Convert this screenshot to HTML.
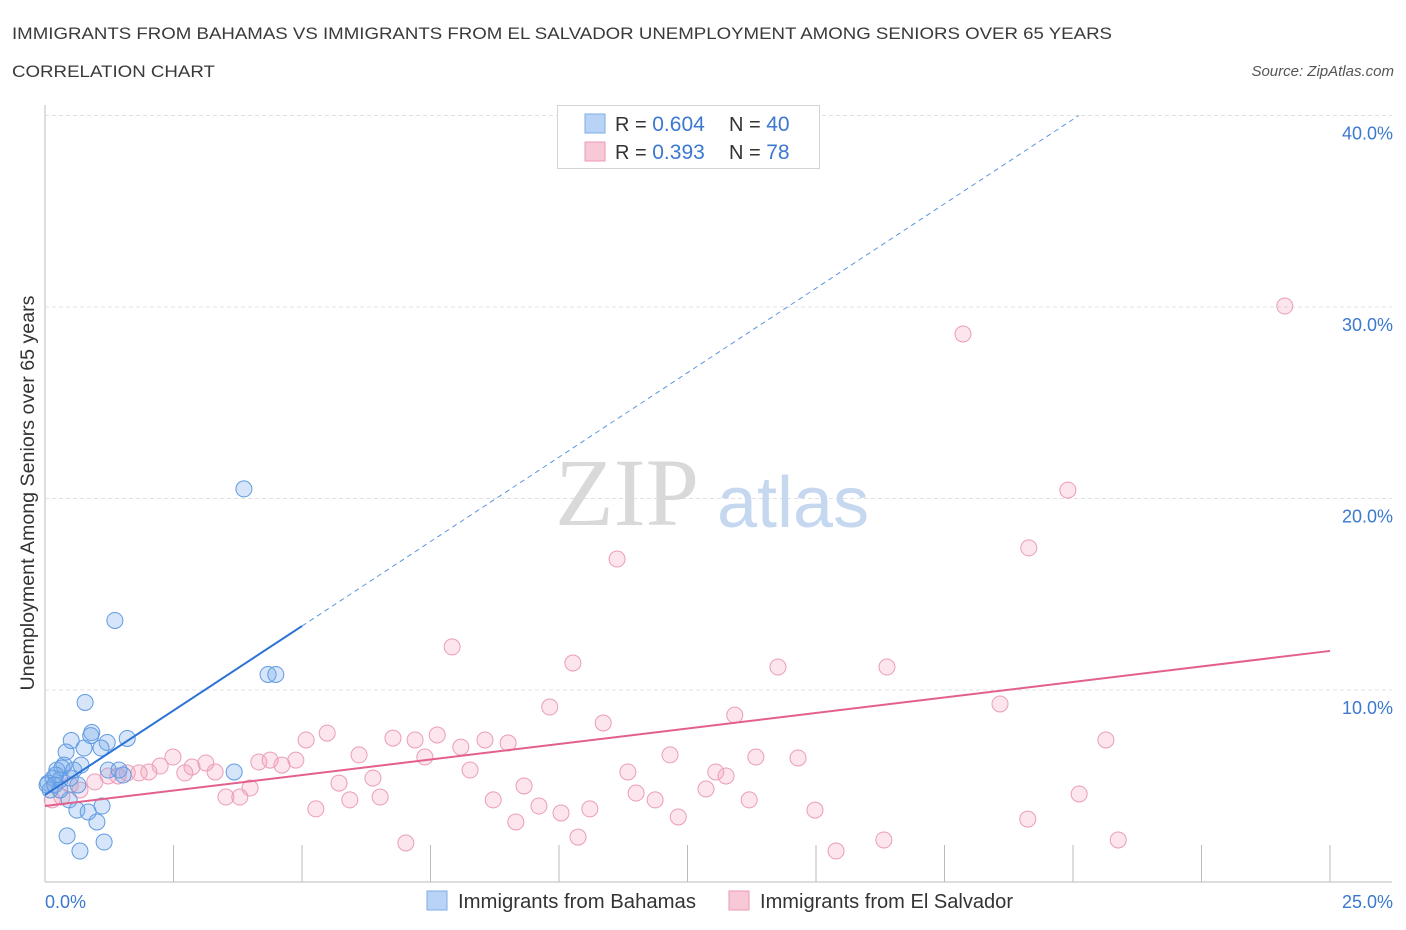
<!DOCTYPE html>
<html><head><meta charset="utf-8"><style>
body{margin:0;background:#fff;font-family:"Liberation Sans",sans-serif}
svg{display:block}
</style></head><body>
<svg id="chart" width="1406" height="930" xmlns="http://www.w3.org/2000/svg">
<text x="12" y="39" font-size="17" fill="#3a3a3a" textLength="1100" lengthAdjust="spacingAndGlyphs">IMMIGRANTS FROM BAHAMAS VS IMMIGRANTS FROM EL SALVADOR UNEMPLOYMENT AMONG SENIORS OVER 65 YEARS</text>
<text x="12" y="77" font-size="17" fill="#3a3a3a" textLength="203" lengthAdjust="spacingAndGlyphs">CORRELATION CHART</text>
<text x="1394" y="76" font-size="15" fill="#555" font-style="italic" text-anchor="end">Source: ZipAtlas.com</text>
<g id="grid"></g>
<text x="555" y="525" font-size="96" fill="#d9d9d9" font-family="Liberation Serif,serif">ZIP</text>
<text x="717" y="527" font-size="72" fill="#c5d8f0">atlas</text>
<g id="marks"></g>
<g>
<rect x="557.5" y="105.5" width="262" height="63" fill="#fff" stroke="#d4d4d4"/>
<rect x="585" y="114" width="20" height="19" fill="#b8d3f5" stroke="#7eaee8"/>
<rect x="585" y="142" width="20" height="19" fill="#f8c8d6" stroke="#ec9ab4"/>
<text x="615" y="131" font-size="20" fill="#333">R = <tspan fill="#3b78d0" font-size="21">0.604</tspan></text>
<text x="729" y="131" font-size="20" fill="#333">N = <tspan fill="#3b78d0" font-size="21">40</tspan></text>
<text x="615" y="159" font-size="20" fill="#333">R =  <tspan fill="#3b78d0" font-size="21">0.393</tspan></text>
<text x="729" y="159" font-size="20" fill="#333">N =  <tspan fill="#3b78d0" font-size="21">78</tspan></text>
</g>
<text transform="translate(34,493) rotate(-90)" font-size="19" fill="#333" text-anchor="middle" textLength="395" lengthAdjust="spacingAndGlyphs">Unemployment Among Seniors over 65 years</text>
<text x="45" y="908" font-size="18" fill="#3b78d0">0.0%</text>
<text x="1393" y="908" font-size="18" fill="#3b78d0" text-anchor="end">25.0%</text>
<rect x="427" y="891" width="20" height="19" fill="#b8d3f5" stroke="#7eaee8"/>
<text x="458" y="908" font-size="20" fill="#333" textLength="238" lengthAdjust="spacingAndGlyphs">Immigrants from Bahamas</text>
<rect x="729" y="891" width="20" height="19" fill="#f8c8d6" stroke="#ec9ab4"/>
<text x="760" y="908" font-size="20" fill="#333" textLength="253" lengthAdjust="spacingAndGlyphs">Immigrants from El Salvador</text>
</svg>
<script>
const yTicks=[10,20,30,40];
const yTickLabels=["10.0%","20.0%","30.0%","40.0%"];
const xTicks=[0,2.5,5,7.5,10,12.5,15,17.5,20,22.5,25];
const bahamasX=[3.87,1.36,4.34,4.49,0.78,0.91,0.89,1.60,0.51,1.21,0.76,1.09,0.41,0.70,0.37,1.23,1.44,3.68,1.52,0.23,0.33,0.16,0.29,0.06,0.10,0.21,0.49,0.64,0.47,0.62,0.84,1.11,1.01,0.43,0.68,1.15,0.56,0.04,0.19,0.29];
const bahamasY=[20.50,13.63,10.81,10.81,9.35,7.78,7.62,7.47,7.36,7.26,6.97,6.97,6.76,6.08,6.08,5.82,5.82,5.72,5.56,5.82,5.93,5.40,5.30,5.14,4.78,5.56,5.40,5.04,4.26,3.73,3.63,3.94,3.11,2.38,1.59,2.06,5.82,5.04,5.04,4.78];
const salvadorX=[24.12,17.86,19.90,19.14,11.13,7.92,10.27,14.26,16.38,18.58,9.82,10.86,13.42,20.64,5.49,7.63,6.77,7.20,8.56,9.01,5.08,8.09,6.11,7.39,12.16,13.83,14.65,2.49,4.88,4.16,4.38,3.13,4.61,2.24,2.86,2.02,1.83,1.60,2.72,3.31,1.23,1.42,11.34,8.27,13.05,13.25,6.38,5.72,9.32,3.99,12.86,11.50,11.87,3.52,3.79,6.52,5.93,8.72,13.70,20.12,9.61,5.27,10.04,10.60,14.98,12.32,9.16,19.12,10.37,7.02,16.32,20.88,15.39,0.97,0.49,0.14,0.68,0.33];
const salvadorY=[30.05,28.59,20.44,17.42,16.84,12.25,11.41,11.20,11.20,9.27,9.11,8.28,8.69,7.39,7.75,7.65,7.49,7.39,7.39,7.23,7.39,7.02,6.61,6.50,6.61,6.50,6.45,6.50,6.34,6.24,6.34,6.19,6.08,6.03,5.98,5.72,5.67,5.67,5.67,5.72,5.51,5.51,5.72,5.82,5.72,5.51,5.40,5.14,4.99,4.88,4.83,4.62,4.26,4.41,4.41,4.41,4.26,4.26,4.26,4.57,3.94,3.79,3.58,3.79,3.73,3.37,3.11,3.26,2.32,2.01,2.17,2.17,1.59,5.20,5.04,4.26,4.78,4.41];
const bahamasTrend=[4.52,1.764]; // intercept, slope
const salvadorTrend=[3.94,0.324];
const NS='http://www.w3.org/2000/svg';
const sx=v=>45+v*51.4, sy=v=>881.5-v*19.15;
function mk(tag,attrs,parent){const e=document.createElementNS(NS,tag);for(const k in attrs)e.setAttribute(k,attrs[k]);parent.appendChild(e);return e;}
const grid=document.getElementById('grid'), marks=document.getElementById('marks');
const yAxis=mk('line',{x1:45,y1:105,x2:45,y2:882,stroke:'#bbb'},grid);


const xAxis=mk('line',{x1:45,y1:882,x2:1392,y2:882,stroke:'#bbb'},grid);


yTicks.forEach((t,i)=>{
 const g=mk('line',{x1:45,y1:sy(t),x2:1392,y2:sy(t),stroke:'#e0e0e0','stroke-dasharray':'4,3'},grid);
 
 
 const l=mk('text',{x:1393,y:sy(t)+24,'font-size':18,fill:'#3b78d0','text-anchor':'end'},grid);
 l.textContent=yTickLabels[i];
 
 
});
xTicks.forEach(t=>{
 const k=mk('line',{x1:sx(t),y1:845,x2:sx(t),y2:882,stroke:'#bbb'},grid);
 
 
});
salvadorX.forEach((x,i)=>{
 const c=mk('circle',{cx:sx(x),cy:sy(salvadorY[i]),r:8,fill:'rgba(244,160,188,0.28)',stroke:'#eb9db7','stroke-width':1},marks);
 
 
});
bahamasX.forEach((x,i)=>{
 const c=mk('circle',{cx:sx(x),cy:sy(bahamasY[i]),r:8,fill:'rgba(120,170,235,0.3)',stroke:'#5f9be0','stroke-width':1},marks);
 
 
});
const pl=mk('line',{x1:sx(0),y1:sy(salvadorTrend[0]),x2:sx(25),y2:sy(salvadorTrend[0]+salvadorTrend[1]*25),stroke:'#e4608c','stroke-width':2},marks);


const bl=mk('line',{x1:sx(0),y1:sy(bahamasTrend[0]),x2:sx(5),y2:sy(bahamasTrend[0]+bahamasTrend[1]*5),stroke:'#2a72d6','stroke-width':2},marks);


const xEnd=(40-bahamasTrend[0])/bahamasTrend[1];
const bd=mk('line',{x1:sx(5),y1:sy(bahamasTrend[0]+bahamasTrend[1]*5),x2:sx(xEnd),y2:sy(40),stroke:'#5b95e0','stroke-width':1,'stroke-dasharray':'5,4'},marks);


</script>
</body></html>
